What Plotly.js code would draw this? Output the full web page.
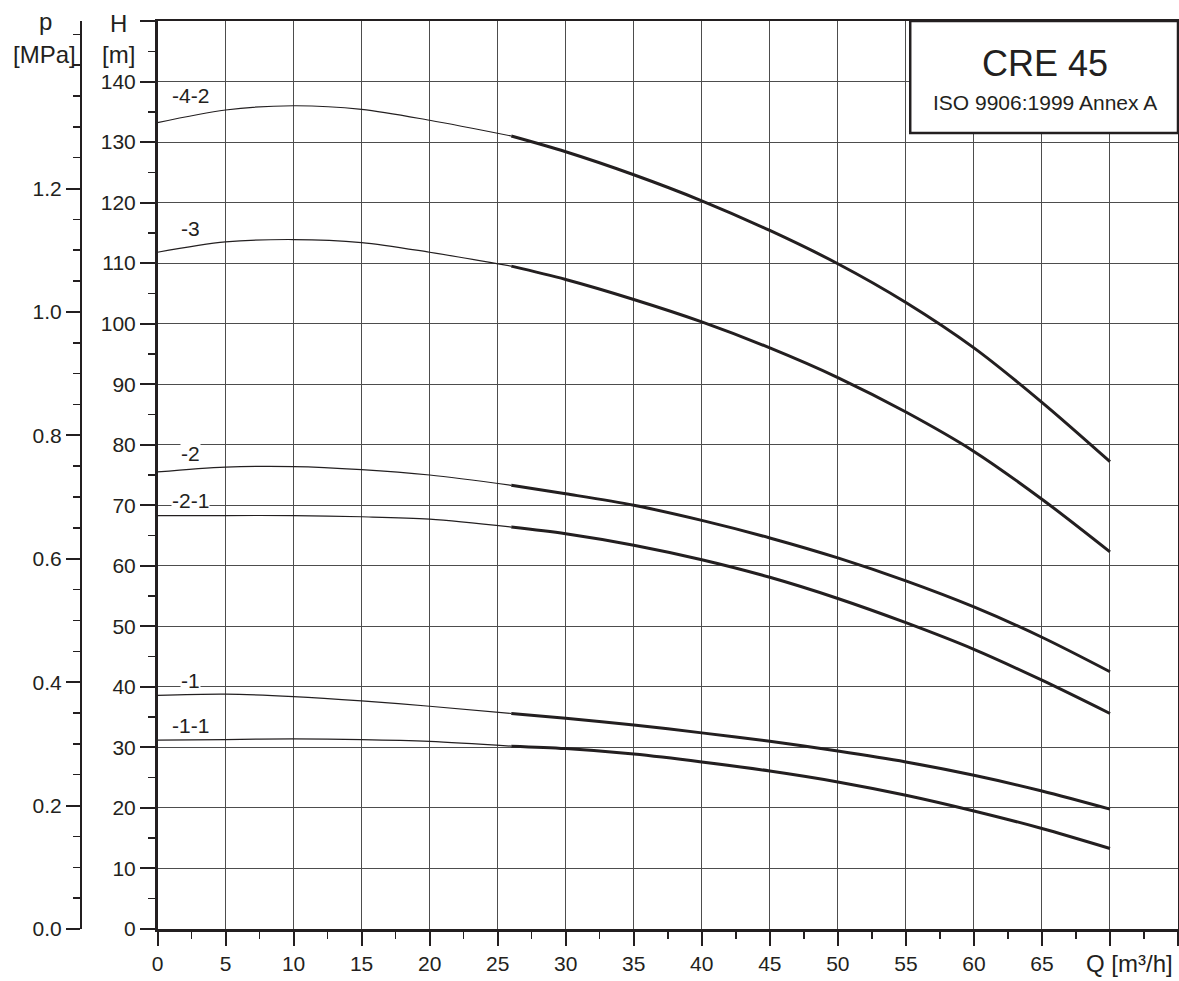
<!DOCTYPE html>
<html>
<head>
<meta charset="utf-8">
<script src="https://cdn.plot.ly/plotly-3.0.1.min.js"></script>
<style>html,body{margin:0;padding:0;background:#fff;}#chart{width:1179px;height:981px;}</style>
</head>
<body>
<div id="chart"></div>
<script>
// ---- data ----
const flowQ = [0, 5, 10, 15, 20, 26, 30, 35, 40, 45, 50, 55, 60, 65, 70];   // m3/h
const thickFrom = 26;                                                          // start of bold part
const curveNames = ["-4-2", "-3", "-2", "-2-1", "-1", "-1-1"];
const head_4_2 = [133.2, 135.3, 136.0, 135.4, 133.6, 131.0, 128.4, 124.6, 120.3, 115.4, 109.9, 103.5, 96.0, 87.0, 77.2];
const head_3   = [111.8, 113.5, 113.9, 113.4, 111.8, 109.5, 107.3, 104.0, 100.3, 96.0, 91.1, 85.4, 78.9, 71.0, 62.3];
const head_2   = [75.5, 76.3, 76.4, 75.9, 75.0, 73.3, 71.9, 70.0, 67.5, 64.6, 61.3, 57.5, 53.2, 48.2, 42.5];
const head_2_1 = [68.3, 68.3, 68.3, 68.1, 67.7, 66.4, 65.3, 63.4, 61.0, 58.1, 54.6, 50.6, 46.2, 41.1, 35.6];
const head_1   = [38.6, 38.8, 38.4, 37.7, 36.8, 35.6, 34.8, 33.7, 32.4, 31.0, 29.4, 27.6, 25.4, 22.8, 19.8];
const head_1_1 = [31.2, 31.3, 31.4, 31.3, 31.0, 30.2, 29.8, 28.9, 27.6, 26.1, 24.3, 22.1, 19.5, 16.6, 13.3];
const heads = [head_4_2, head_3, head_2, head_2_1, head_1, head_1_1];
const labelQ = 2.46;
const labelH = [137.7, 115.8, 78.6, 70.8, 41.1, 33.7];

const qTicks = [0,5,10,15,20,25,30,35,40,45,50,55,60,65,70,75];
const qTickText = ["0","5","10","15","20","25","30","35","40","45","50","55","60","65","",""];
const hTicks = [0,10,20,30,40,50,60,70,80,90,100,110,120,130,140,150];
const hTickText = ["0","10","20","30","40","50","60","70","80","90","100","110","120","130","140",""];
const pTicks = [0,0.2,0.4,0.6,0.8,1.0,1.2];
const pTickText = ["0.0","0.2","0.4","0.6","0.8","1.0","1.2"];
const mpaPerMetre = 0.00981;
const hMax = 150, qMax = 75;

const title = "CRE 45";
const subtitle = "ISO 9906:1999 Annex A";

// ---- layout geometry ----
const W = 1179, Hh = 981;
const mL = 10, mR = 1, mT = 21, mB = 52;
const pw = W - mL - mR, ph = Hh - mT - mB;
const px2paperX = x => (x - mL) / pw;
const px2paperY = y => (Hh - mB - y) / ph;

const ink = "#231f20";
const FONT = "Liberation Sans, Arial, Helvetica, sans-serif";

const traces = [];
heads.forEach((h, i) => {
  const thinQ = [], thinH = [], thickQ = [], thickH = [];
  flowQ.forEach((q, j) => {
    if (q <= thickFrom) { thinQ.push(q); thinH.push(h[j]); }
    if (q >= thickFrom) { thickQ.push(q); thickH.push(h[j]); }
  });
  traces.push({x: thinQ, y: thinH, type: "scatter", mode: "lines",
    line: {color: ink, width: 1.2, shape: "spline", smoothing: 0.9}, hoverinfo: "skip"});
  traces.push({x: thickQ, y: thickH, type: "scatter", mode: "lines",
    line: {color: ink, width: 3, shape: "spline", smoothing: 0.9}, hoverinfo: "skip"});
});

const annotations = [];
curveNames.forEach((n, i) => {
  annotations.push({x: labelQ, y: labelH[i], xref: "x", yref: "y", text: n, showarrow: false,
    font: {family: FONT, size: 21, color: ink}, bgcolor: "#fff", borderpad: 0, height: 22,
    xanchor: "center", yanchor: "middle"});
});
annotations.push({x: 65.2, y: 143.0, xref: "x", yref: "y", text: title, showarrow: false,
  font: {family: FONT, size: 36, color: ink}, xanchor: "center", yanchor: "middle"});
annotations.push({x: 65.2, y: 136.6, xref: "x", yref: "y", text: subtitle, showarrow: false,
  font: {family: FONT, size: 21, color: ink}, xanchor: "center", yanchor: "middle"});
const axisLab = [
  ["H", 118, 23], ["[m]", 118, 54], ["p", 45, 22], ["[MPa]", 44, 54], ["Q [m³/h]", 1129, 964]
];
axisLab.forEach(a => annotations.push({x: px2paperX(a[1]), y: px2paperY(a[2]), xref: "paper", yref: "paper",
  text: a[0], showarrow: false, font: {family: FONT, size: 24, color: ink}, xanchor: "center", yanchor: "middle"}));

const layout = {
  width: W, height: Hh,
  margin: {l: mL, r: mR, t: mT, b: mB, pad: 0},
  paper_bgcolor: "#fff", plot_bgcolor: "#fff",
  showlegend: false, hovermode: false,
  font: {family: FONT, size: 21, color: ink},
  xaxis: {
    domain: [px2paperX(157.5), 1], range: [0, qMax], fixedrange: true,
    tickmode: "array", tickvals: qTicks, ticktext: qTickText,
    ticks: "outside", ticklen: 14, tickwidth: 2, tickcolor: ink,
    minor: {tickmode: "linear", tick0: 0, dtick: 2.5, ticks: "outside", ticklen: 7, tickwidth: 1.5, tickcolor: ink, showgrid: false},
    showgrid: true, gridcolor: "#4d4d4d", gridwidth: 1,
    showline: true, linecolor: ink, linewidth: 2.5, mirror: true, zeroline: false,
    tickfont: {family: FONT, size: 21, color: ink}
  },
  yaxis: {
    range: [0, hMax], fixedrange: true,
    tickmode: "array", tickvals: hTicks, ticktext: hTickText,
    ticks: "outside", ticklen: 15, tickwidth: 2, tickcolor: ink,
    minor: {tickmode: "linear", tick0: 0, dtick: 5, ticks: "outside", ticklen: 7, tickwidth: 1.5, tickcolor: ink, showgrid: false},
    showgrid: true, gridcolor: "#4d4d4d", gridwidth: 1,
    showline: true, linecolor: ink, linewidth: 2.5, mirror: true, zeroline: false,
    tickfont: {family: FONT, size: 21, color: ink}
  },
  yaxis2: {
    overlaying: "y", anchor: "free", side: "left", position: px2paperX(81),
    range: [0, hMax * mpaPerMetre], fixedrange: true,
    tickmode: "array", tickvals: pTicks, ticktext: pTickText,
    ticks: "outside", ticklen: 14, tickwidth: 2, tickcolor: ink,
    minor: {tickmode: "linear", tick0: 0, dtick: 0.05, ticks: "outside", ticklen: 7, tickwidth: 1.5, tickcolor: ink, showgrid: false},
    showgrid: false, showline: true, linecolor: ink, linewidth: 2, zeroline: false,
    tickfont: {family: FONT, size: 21, color: ink}
  },
  shapes: [{
    type: "rect", xref: "x", yref: "y", x0: 55.32, x1: qMax, y0: 131.5, y1: hMax,
    fillcolor: "#fff", line: {color: ink, width: 2.5}, layer: "above"
  }],
  annotations: annotations
};
// invisible point to activate the pressure axis
traces.push({x: [0], y: [0], yaxis: "y2", type: "scatter", mode: "markers", marker: {opacity: 0}, hoverinfo: "skip"});

Plotly.newPlot("chart", traces, layout, {displayModeBar: false, staticPlot: true});
</script>
</body>
</html>
